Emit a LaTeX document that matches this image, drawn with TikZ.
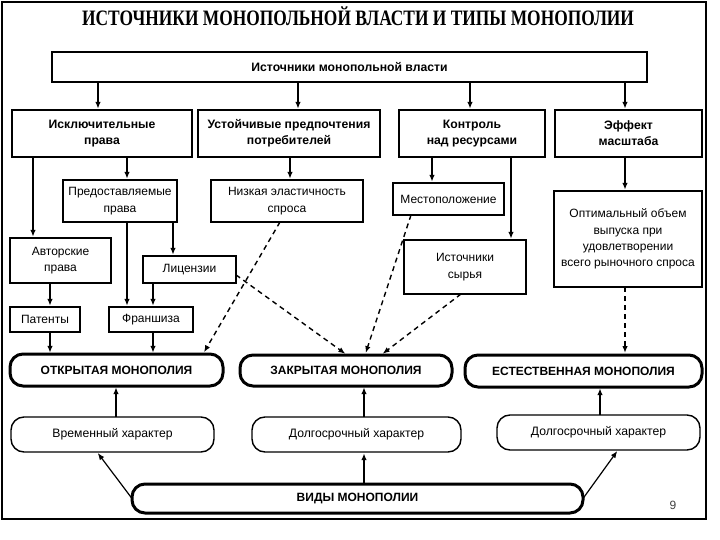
\documentclass[tikz,border=0pt]{standalone}
\usepackage{fontspec}
\setmainfont{Liberation Sans}
\newfontfamily\titlefont{Liberation Serif}
\usetikzlibrary{arrows.meta,calc}
\begin{document}
\begin{tikzpicture}[x=1pt,y=-1pt,
  every node/.style={inner sep=0pt,outer sep=0pt,align=center},
  thickbox/.style={draw,line width=2.8pt,anchor=north west,font=\bfseries\fontsize{12.2}{16}\selectfont},
  thinbox/.style={draw,line width=1.4pt,anchor=north west,font=\fontsize{12}{16.3}\selectfont},
  bigpill/.style={draw,line width=3pt,rounded corners=13pt,anchor=north west,font=\bfseries\fontsize{12}{14}\selectfont},
  smallpill/.style={draw,line width=1.4pt,rounded corners=13pt,anchor=north west,font=\fontsize{12.2}{14}\selectfont},
  arr/.style={line width=1.4pt,shorten >=1.2pt,-{Latex[length=7pt,width=5.5pt]}},
  darr/.style={arr,dash pattern=on 5pt off 4pt,shorten >=2pt},
]
\useasboundingbox (0,0) rectangle (720,540);
\draw[line width=1.2pt] (2,2) rectangle (706,519);

\node[font=\titlefont\bfseries\fontsize{22}{24}\selectfont] (title) at (358,16) {\scalebox{0.79}[1]{ИСТОЧНИКИ МОНОПОЛЬНОЙ ВЛАСТИ И ТИПЫ МОНОПОЛИИ}};

\node[thickbox,minimum width=595pt,minimum height=30pt] (top) at (52,52) {Источники монопольной власти};

\node[thickbox,minimum width=180pt,minimum height=47pt] (b1) at (12,110) {Исключительные\\права};
\node[thickbox,minimum width=182pt,minimum height=47pt] (b2) at (198,110) {Устойчивые предпочтения\\потребителей};
\node[thickbox,minimum width=146pt,minimum height=47pt] (b3) at (399,110) {Контроль\\над ресурсами};
\node[thickbox,minimum width=147pt,minimum height=47pt] (b4) at (555,110) {Эффект\\масштаба};

\node[thinbox,minimum width=114pt,minimum height=42pt] (pred) at (63,180) {Предоставляемые\\права};
\node[thinbox,minimum width=152pt,minimum height=42pt] (niz) at (211,180) {Низкая эластичность\\спроса};
\node[thinbox,minimum width=111pt,minimum height=32pt] (mest) at (393,183) {Местоположение};
\node[thinbox,minimum width=101pt,minimum height=45pt] (avt) at (10,238) {Авторские\\права};
\node[thinbox,minimum width=93pt,minimum height=27pt] (lic) at (143,256) {Лицензии};
\node[thinbox,minimum width=122pt,minimum height=54pt] (ist) at (404,240) {Источники\\сырья};
\node[thinbox,minimum width=148pt,minimum height=96pt] (opt) at (554,191) {Оптимальный объем\\выпуска при\\удовлетворении\\всего рыночного спроса};
\node[thinbox,minimum width=70pt,minimum height=25pt] (pat) at (10,307) {Патенты};
\node[thinbox,minimum width=84pt,minimum height=25pt] (fr) at (109,307) {Франшиза};

\node[bigpill,minimum width=213pt,minimum height=32pt] (open) at (10,354) {ОТКРЫТАЯ МОНОПОЛИЯ};
\node[bigpill,minimum width=212pt,minimum height=31pt] (closed) at (240,355) {ЗАКРЫТАЯ МОНОПОЛИЯ};
\node[bigpill,minimum width=237pt,minimum height=32pt] (nat) at (465,355) {ЕСТЕСТВЕННАЯ МОНОПОЛИЯ};

\node[smallpill,minimum width=203pt,minimum height=35pt] (vrem) at (11,417) {Временный характер};
\node[smallpill,minimum width=209pt,minimum height=35pt] (dolg1) at (252,417) {Долгосрочный характер};
\node[smallpill,minimum width=203pt,minimum height=35pt] (dolg2) at (497,415) {Долгосрочный характер};

\node[bigpill,minimum width=451pt,minimum height=29pt] (vidy) at (132,484) {ВИДЫ МОНОПОЛИИ};

\node[font=\fontsize{12}{14}\selectfont,text=black!75] (page) at (673,505) {9};

% top -> row 2
\draw[arr] (top.south -| 98,0) -- (b1.north -| 98,0);
\draw[arr] (top.south -| 298,0) -- (b2.north -| 298,0);
\draw[arr] (top.south -| 470,0) -- (b3.north -| 470,0);
\draw[arr] (top.south -| 625,0) -- (b4.north -| 625,0);

% row 2 -> row 3
\draw[arr] (b1.south -| 33,0) -- (avt.north -| 33,0);
\draw[arr] (b1.south -| 127,0) -- (pred.north -| 127,0);
\draw[arr] (b2.south -| 290,0) -- (niz.north -| 290,0);
\draw[arr] (b3.south -| 432,0) -- (mest.north -| 432,0);
\draw[arr] (b3.south -| 511,0) -- (ist.north -| 511,0);
\draw[arr] (b4.south -| 625,0) -- (opt.north -| 625,0);

% within the left column
\draw[arr] (pred.south -| 127,0) -- (fr.north -| 127,0);
\draw[arr] (pred.south -| 173,0) -- (lic.north -| 173,0);
\draw[arr] (avt.south -| 50,0) -- (pat.north -| 50,0);
\draw[arr] (lic.south -| 153,0) -- (fr.north -| 153,0);
\draw[arr] (pat.south -| 50,0) -- (open.north -| 50,0);
\draw[arr] (fr.south -| 153,0) -- (open.north -| 153,0);

% dashed connectors
\draw[darr] (niz.south -| 280,0) -- (open.north -| 203,0);
\draw[darr] ($(lic.south east)!0.3!(lic.north east)$) -- (closed.north -| 347,0);
\draw[darr] (mest.south -| 411,0) -- (closed.north -| 365,0);
\draw[darr] (ist.south -| 461,0) -- (closed.north -| 381,0);
\draw[darr] (opt.south -| 625,0) -- (nat.north -| 625,0);

% row 5 -> row 4
\draw[arr] (vrem.north -| 116,0) -- (open.south -| 116,0);
\draw[arr] (dolg1.north -| 364,0) -- (closed.south -| 364,0);
\draw[arr] (dolg2.north -| 600,0) -- (nat.south -| 600,0);

% vidy -> row 5
\draw[arr,line width=1.2pt] (vidy.west) -- (vrem.south -| 97,0);
\draw[arr] (vidy.north -| 364,0) -- (dolg1.south -| 364,0);
\draw[arr,line width=1.2pt] (vidy.east) -- (dolg2.south -| 618,0);
\end{tikzpicture}
\end{document}
